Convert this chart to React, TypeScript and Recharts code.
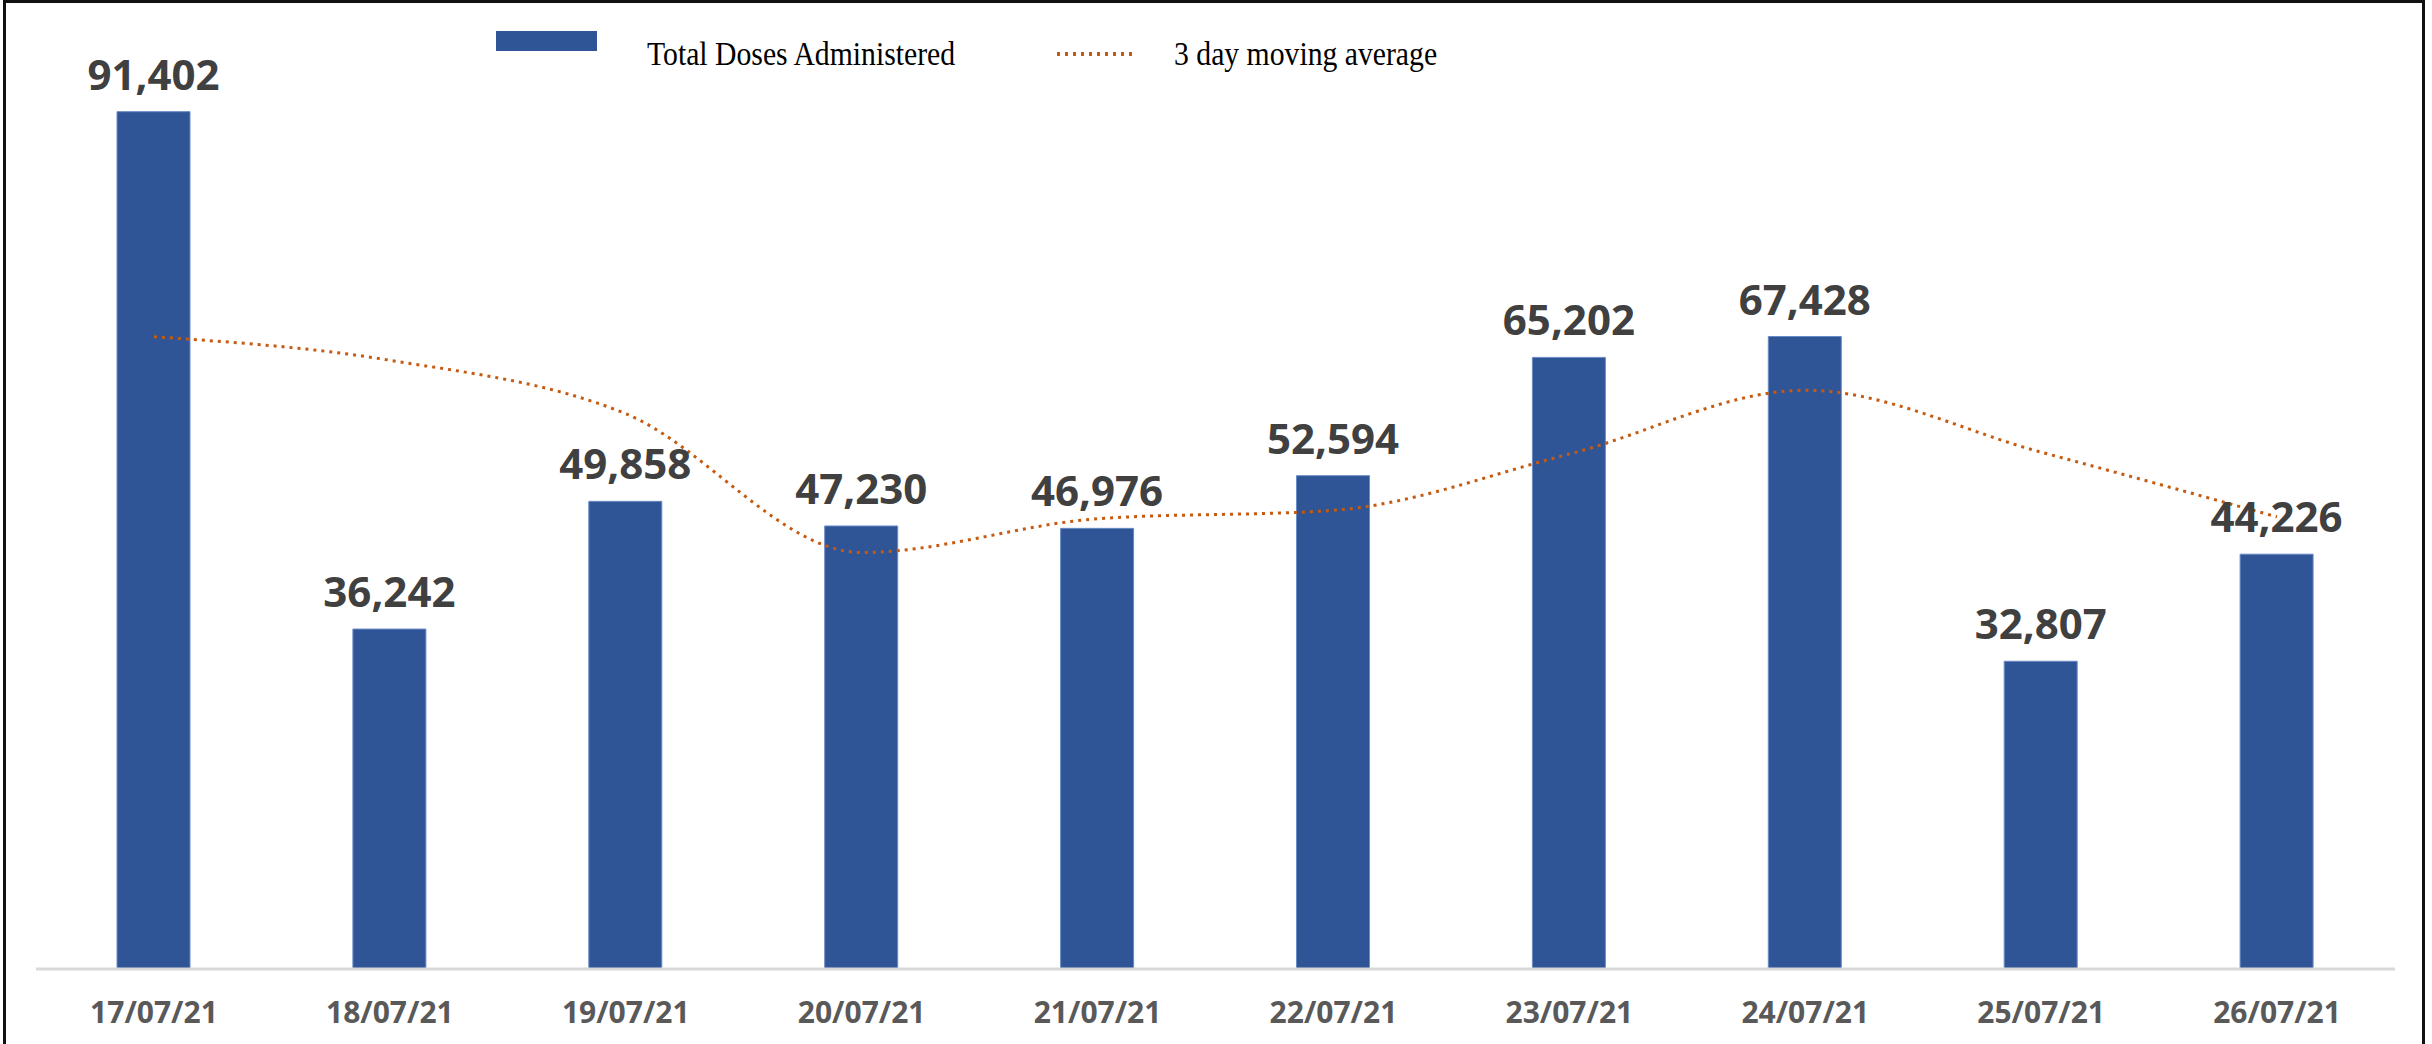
import { ComposedChart, Bar, Line, XAxis, YAxis, Legend, LabelList } from 'recharts'

const dates = ['17/07/21', '18/07/21', '19/07/21', '20/07/21', '21/07/21', '22/07/21', '23/07/21', '24/07/21', '25/07/21', '26/07/21']
const totalDoses = [91402, 36242, 49858, 47230, 46976, 52594, 65202, 67428, 32807, 44226]
const movingAverage = [67400, 64900, 59200, 44400, 48000, 48900, 54900, 61700, 55100, 48200]

const BAR_COLOR = '#2F5597'
const LINE_COLOR = '#C55A11'

const data = dates.map((d, i) => ({
  date: d,
  doses: totalDoses[i],
  avg: movingAverage[i],
}))

function ChartLegend() {
  // serif legend text, a little narrow like the original
  const text: React.CSSProperties = {
    position: 'absolute',
    top: 34,
    fontFamily: '"Liberation Serif", serif',
    fontSize: 33,
    color: '#000',
    lineHeight: '40px',
    whiteSpace: 'nowrap',
    transform: 'scaleX(0.9)',
    transformOrigin: 'left center',
  }
  return (
    <div style={{ position: 'relative', width: 2432, height: 100 }}>
      <div style={{ position: 'absolute', left: 496, top: 31, width: 101, height: 20, background: BAR_COLOR }} />
      <span style={{ ...text, left: 647 }}>Total Doses Administered</span>
      <svg style={{ position: 'absolute', left: 1055, top: 48 }} width={84} height={12}>
        <line x1={2} y1={6} x2={82} y2={6} stroke={LINE_COLOR} strokeWidth={4} strokeDasharray="3 5" />
      </svg>
      <span style={{ ...text, left: 1174 }}>3 day moving average</span>
    </div>
  )
}

export default function App() {
  return (
    <div style={{ position: 'absolute', left: 0, top: 0, width: 2432, height: 1044, background: '#fff', overflow: 'hidden' }}>
      <div
        style={{
          position: 'absolute', left: 3, top: 0, width: 2422, height: 1070,
          border: '3px solid #111', boxSizing: 'border-box',
        }}
      />
      <div style={{ position: 'absolute', left: 0, top: 0 }}>
        <ComposedChart width={2432} height={1044} data={data} margin={{ top: 31, right: 37, left: 36, bottom: 0 }} barCategoryGap="0%">
          <XAxis
            dataKey="date"
            axisLine={{ stroke: '#D9D9D9', strokeWidth: 3 }}
            tickLine={false}
            tickSize={0}
            tickMargin={33}
            height={75}
            tick={{ fontFamily: '"Open Sans", sans-serif', fontWeight: 700, fontSize: 30, fill: '#595959' }}
          />
          <YAxis hide domain={[0, 100000]} />
          <Legend
            layout="horizontal"
            verticalAlign="middle"
            align="center"
            wrapperStyle={{ top: 0, left: 0, width: 2432 }}
            content={() => <ChartLegend />}
          />
          <Bar dataKey="doses" fill={BAR_COLOR} stroke="#6A8BC6" strokeWidth={1} barSize={73} isAnimationActive={false}>
            <LabelList
              dataKey="doses"
              position="top"
              offset={22}
              formatter={(v: any) => Number(v).toLocaleString('en-US')}
              style={{ fontFamily: '"Open Sans", sans-serif', fontWeight: 700, fontSize: 42, fill: '#404040' }}
            />
          </Bar>
          <Line
            dataKey="avg"
            type="monotone"
            stroke={LINE_COLOR}
            strokeWidth={3}
            strokeDasharray="3 5"
            dot={false}
            activeDot={false}
            isAnimationActive={false}
          />
        </ComposedChart>
      </div>
    </div>
  )
}
